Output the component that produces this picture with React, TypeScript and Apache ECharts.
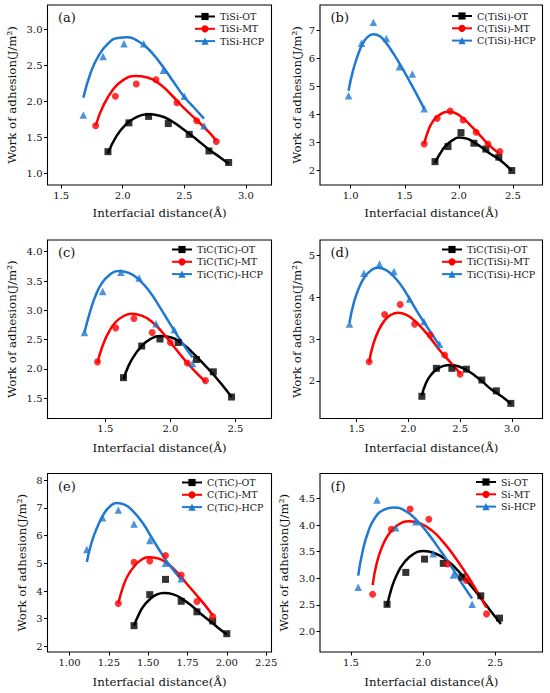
import React, { useEffect, useRef } from 'react';
import * as echarts from 'echarts';

const FONT = 'DejaVu Serif';
const COLORS = ['#000000', '#ff0000', '#1f78d1'];
const SYMBOLS = ['rect', 'circle', 'triangle'];
const SYMBOL_SIZES = [7, 7, 7.5];
const X_NAME = 'Interfacial distance(Å)';
const Y_NAME = 'Work of adhesion(J/m²)';

// (a)
const aNames = ['TiSi-OT', 'TiSi-MT', 'TiSi-HCP'];
const aOT = [[1.88,1.30],[2.05,1.70],[2.21,1.79],[2.37,1.69],[2.54,1.54],[2.70,1.31],[2.86,1.15]];
const aOTFit = [[1.88,1.28],[1.95,1.52],[2.02,1.67],[2.10,1.77],[2.20,1.82],[2.30,1.80],[2.40,1.72],[2.50,1.60],[2.60,1.47],[2.70,1.33],[2.80,1.21],[2.86,1.13]];
const aMT = [[1.78,1.66],[1.94,2.07],[2.11,2.24],[2.27,2.30],[2.44,1.98],[2.60,1.73],[2.76,1.44]];
const aMTFit = [[1.78,1.66],[1.84,1.93],[1.92,2.16],[2.00,2.29],[2.10,2.35],[2.20,2.33],[2.30,2.24],[2.40,2.08],[2.50,1.90],[2.60,1.74],[2.70,1.57],[2.76,1.45]];
const aHCP = [[1.68,1.81],[1.84,2.62],[2.01,2.80],[2.17,2.80],[2.33,2.43],[2.50,2.07],[2.66,1.66]];
const aHCPFit = [[1.68,2.05],[1.74,2.40],[1.80,2.62],[1.88,2.80],[1.96,2.88],[2.04,2.89],[2.12,2.84],[2.20,2.74],[2.30,2.54],[2.40,2.30],[2.50,2.06],[2.58,1.91],[2.66,1.76]];
const aXTicks = [1.5, 2.0, 2.5, 3.0];
const aYTicks = [1.0, 1.5, 2.0, 2.5, 3.0];

// (b)
const bNames = ['C(TiSi)-OT', 'C(TiSi)-MT', 'C(TiSi)-HCP'];
const bOT = [[1.78,2.31],[1.90,2.85],[2.02,3.35],[2.14,2.97],[2.25,2.76],[2.37,2.47],[2.49,1.99]];
const bOTFit = [[1.78,2.27],[1.83,2.62],[1.88,2.88],[1.94,3.07],[2.00,3.17],[2.06,3.15],[2.12,3.05],[2.20,2.85],[2.28,2.62],[2.37,2.40],[2.44,2.17],[2.49,1.99]];
const bMT = [[1.68,2.94],[1.80,3.86],[1.92,4.12],[2.04,3.80],[2.16,3.36],[2.27,2.94],[2.38,2.67]];
const bMTFit = [[1.68,2.95],[1.72,3.45],[1.76,3.75],[1.82,3.98],[1.90,4.10],[1.96,4.06],[2.04,3.86],[2.12,3.56],[2.20,3.23],[2.28,2.90],[2.38,2.58]];
const bHCP = [[0.98,4.67],[1.10,6.55],[1.21,7.30],[1.33,6.72],[1.45,5.71],[1.57,5.45],[1.68,4.20]];
const bHCPFit = [[0.98,4.85],[1.02,5.55],[1.06,6.05],[1.10,6.45],[1.15,6.75],[1.21,6.87],[1.27,6.80],[1.33,6.55],[1.40,6.15],[1.47,5.70],[1.55,5.15],[1.62,4.65],[1.68,4.20]];
const bXTicks = [1.0, 1.5, 2.0, 2.5];
const bYTicks = [2, 3, 4, 5, 6, 7];

// (c)
const cNames = ['TiC(TiC)-OT', 'TiC(TiC)-MT', 'TiC(TiC)-HCP'];
const cOT = [[1.64,1.85],[1.78,2.39],[1.92,2.51],[2.06,2.45],[2.20,2.16],[2.33,1.95],[2.47,1.52]];
const cOTFit = [[1.64,1.82],[1.68,2.06],[1.73,2.25],[1.78,2.39],[1.84,2.50],[1.92,2.56],[2.00,2.54],[2.08,2.45],[2.16,2.30],[2.24,2.12],[2.32,1.93],[2.40,1.72],[2.47,1.52]];
const cMT = [[1.44,2.12],[1.58,2.70],[1.72,2.86],[1.86,2.62],[2.00,2.45],[2.13,2.10],[2.27,1.80]];
const cMTFit = [[1.44,2.10],[1.48,2.40],[1.53,2.64],[1.58,2.80],[1.64,2.90],[1.70,2.94],[1.78,2.91],[1.86,2.80],[1.94,2.62],[2.02,2.40],[2.10,2.18],[2.18,1.98],[2.27,1.78]];
const cHCP = [[1.34,2.62],[1.48,3.32],[1.62,3.65],[1.76,3.55],[1.89,2.77],[2.03,2.67],[2.17,2.09]];
const cHCPFit = [[1.34,2.62],[1.38,2.95],[1.42,3.22],[1.47,3.45],[1.53,3.60],[1.60,3.67],[1.68,3.64],[1.76,3.52],[1.84,3.32],[1.92,3.05],[2.00,2.76],[2.08,2.48],[2.17,2.20]];
const cXTicks = [1.5, 2.0, 2.5];
const cYTicks = [1.5, 2.0, 2.5, 3.0, 3.5, 4.0];

// (d)
const dNames = ['TiC(TiSi)-OT', 'TiC(TiSi)-MT', 'TiC(TiSi)-HCP'];
const dOT = [[2.13,1.63],[2.27,2.30],[2.42,2.30],[2.56,2.28],[2.71,2.02],[2.85,1.76],[2.99,1.46]];
const dOTFit = [[2.13,1.65],[2.17,1.95],[2.22,2.15],[2.28,2.29],[2.34,2.36],[2.40,2.38],[2.48,2.35],[2.56,2.26],[2.64,2.13],[2.72,1.97],[2.80,1.80],[2.90,1.63],[2.99,1.45]];
const dMT = [[1.62,2.46],[1.77,3.59],[1.92,3.83],[2.06,3.36],[2.21,3.10],[2.35,2.62],[2.50,2.16]];
const dMTFit = [[1.62,2.45],[1.66,2.88],[1.71,3.20],[1.77,3.45],[1.83,3.58],[1.90,3.63],[1.98,3.58],[2.06,3.44],[2.14,3.24],[2.22,3.00],[2.30,2.74],[2.40,2.46],[2.50,2.18]];
const dHCP = [[1.43,3.36],[1.57,4.58],[1.72,4.80],[1.86,4.62],[2.01,3.96],[2.15,3.42],[2.30,2.88]];
const dHCPFit = [[1.43,3.40],[1.47,3.85],[1.52,4.22],[1.58,4.50],[1.64,4.65],[1.70,4.71],[1.78,4.66],[1.86,4.50],[1.94,4.25],[2.02,3.93],[2.10,3.60],[2.20,3.22],[2.30,2.85]];
const dXTicks = [1.5, 2.0, 2.5, 3.0];
const dYTicks = [2, 3, 4, 5];

// (e)
const eNames = ['C(TiC)-OT', 'C(TiC)-MT', 'C(TiC)-HCP'];
const eOT = [[1.41,2.75],[1.51,3.87],[1.61,4.42],[1.71,3.63],[1.81,3.25],[1.91,2.92],[2.00,2.46]];
const eOTFit = [[1.41,2.75],[1.44,3.15],[1.47,3.45],[1.51,3.70],[1.55,3.86],[1.60,3.93],[1.66,3.88],[1.72,3.70],[1.78,3.45],[1.84,3.15],[1.90,2.88],[1.95,2.65],[2.00,2.43]];
const eMT = [[1.31,3.55],[1.41,5.04],[1.51,5.08],[1.61,5.28],[1.71,4.58],[1.81,3.62],[1.91,3.08]];
const eMTFit = [[1.31,3.55],[1.34,4.15],[1.37,4.55],[1.41,4.88],[1.45,5.10],[1.50,5.22],[1.56,5.18],[1.62,5.00],[1.68,4.70],[1.74,4.30],[1.80,3.90],[1.86,3.50],[1.91,3.12]];
const eHCP = [[1.11,5.50],[1.21,6.64],[1.31,6.92],[1.41,6.42],[1.51,5.82],[1.61,5.00],[1.71,4.44]];
const eHCPFit = [[1.11,5.05],[1.14,5.75],[1.18,6.35],[1.22,6.80],[1.26,7.07],[1.30,7.18],[1.35,7.12],[1.40,6.90],[1.46,6.50],[1.52,5.95],[1.58,5.40],[1.64,4.90],[1.71,4.42]];
const eXTicks = [1.0, 1.25, 1.5, 1.75, 2.0, 2.25];
const eYTicks = [2, 3, 4, 5, 6, 7, 8];

// (f)
const fNames = ['Si-OT', 'Si-MT', 'Si-HCP'];
const fOT = [[1.75,2.51],[1.88,3.11],[2.01,3.36],[2.14,3.28],[2.27,3.02],[2.40,2.67],[2.53,2.25]];
const fOTFit = [[1.75,2.47],[1.78,2.80],[1.82,3.08],[1.87,3.30],[1.93,3.45],[2.00,3.51],[2.08,3.47],[2.16,3.35],[2.24,3.15],[2.32,2.90],[2.40,2.63],[2.47,2.38],[2.54,2.14]];
const fMT = [[1.65,2.70],[1.78,3.92],[1.91,4.30],[2.04,4.11],[2.17,3.27],[2.30,2.96],[2.44,2.33]];
const fMTFit = [[1.65,2.87],[1.68,3.30],[1.72,3.62],[1.77,3.86],[1.83,4.01],[1.90,4.07],[1.98,4.03],[2.06,3.90],[2.14,3.68],[2.22,3.40],[2.30,3.08],[2.37,2.77],[2.44,2.45]];
const fHCP = [[1.55,2.83],[1.68,4.47],[1.81,3.95],[1.95,4.06],[2.07,3.46],[2.21,3.06],[2.34,2.51]];
const fHCPFit = [[1.55,3.05],[1.58,3.50],[1.62,3.88],[1.67,4.15],[1.73,4.29],[1.80,4.33],[1.88,4.26],[1.96,4.08],[2.04,3.82],[2.12,3.52],[2.20,3.20],[2.27,2.90],[2.34,2.62]];
const fXTicks = [1.5, 2.0, 2.5];
const fYTicks = [2.0, 2.5, 3.0, 3.5, 4.0, 4.5];

const PANELS = [
  { label: '(a)', names: aNames, pts: [aOT, aMT, aHCP], fits: [aOTFit, aMTFit, aHCPFit], xTicks: aXTicks, yTicks: aYTicks, xDec: 1, yDec: 1,
    xMin: 1.389, xMax: 3.208, yMin: 0.837, yMax: 3.337,
    grid: { left: 47.5, top: 5, width: 224, height: 180 }, legend: { left: 194, top: 11.5 }, yGap: 29.5, xGap: 22 },
  { label: '(b)', names: bNames, pts: [bOT, bMT, bHCP], fits: [bOTFit, bMTFit, bHCPFit], xTicks: bXTicks, yTicks: bYTicks, xDec: 1, yDec: 0,
    xMin: 0.716, xMax: 2.774, yMin: 1.473, yMax: 7.92,
    grid: { left: 320, top: 5, width: 222.5, height: 180 }, legend: { left: 451, top: 11 }, yGap: 17.5, xGap: 22 },
  { label: '(c)', names: cNames, pts: [cOT, cMT, cHCP], fits: [cOTFit, cMTFit, cHCPFit], xTicks: cXTicks, yTicks: cYTicks, xDec: 1, yDec: 1,
    xMin: 1.056, xMax: 2.777, yMin: 1.153, yMax: 4.2,
    grid: { left: 47.5, top: 240, width: 224, height: 178.5 }, legend: { left: 171, top: 244.5 }, yGap: 29.5, xGap: 23.5 },
  { label: '(d)', names: dNames, pts: [dOT, dMT, dHCP], fits: [dOTFit, dMTFit, dHCPFit], xTicks: dXTicks, yTicks: dYTicks, xDec: 1, yDec: 0,
    xMin: 1.145, xMax: 3.296, yMin: 1.098, yMax: 5.376,
    grid: { left: 320, top: 240, width: 222.5, height: 178.5 }, legend: { left: 441, top: 244.5 }, yGap: 17.5, xGap: 23.5 },
  { label: '(e)', names: eNames, pts: [eOT, eMT, eHCP], fits: [eOTFit, eMTFit, eHCPFit], xTicks: eXTicks, yTicks: eYTicks, xDec: 2, yDec: 0,
    xMin: 0.86, xMax: 2.284, yMin: 1.80, yMax: 8.24,
    grid: { left: 47.5, top: 473.5, width: 224, height: 178.5 }, legend: { left: 181, top: 477.5 }, yGap: 19.5, xGap: 24 },
  { label: '(f)', names: fNames, pts: [fOT, fMT, fHCP], fits: [fOTFit, fMTFit, fHCPFit], xTicks: fXTicks, yTicks: fYTicks, xDec: 1, yDec: 1,
    xMin: 1.285, xMax: 2.828, yMin: 1.614, yMax: 4.969,
    grid: { left: 320, top: 473.5, width: 222.5, height: 178.5 }, legend: { left: 475, top: 477 }, yGap: 30.5, xGap: 24 },
];

function buildOption() {
  const grid: any[] = [];
  const xAxis: any[] = [];
  const yAxis: any[] = [];
  const legend: any[] = [];
  const series: any[] = [];
  const graphic: any[] = [];
  PANELS.forEach((p, i) => {
    grid.push({ ...p.grid, show: true, borderColor: '#000', borderWidth: 1.1, backgroundColor: 'transparent', containLabel: false });
    xAxis.push({
      type: 'value', gridIndex: i, min: p.xMin, max: p.xMax,
      axisLine: { show: false },
      axisTick: { show: true, length: 3.5, lineStyle: { color: '#000', width: 1 }, customValues: p.xTicks },
      axisLabel: { customValues: p.xTicks, formatter: (v: number) => v.toFixed(p.xDec), fontFamily: FONT, fontSize: 10, color: '#111', margin: 5 },
      splitLine: { show: false },
      name: X_NAME, nameLocation: 'middle', nameGap: p.xGap,
      nameTextStyle: { fontFamily: FONT, fontSize: 11.8, color: '#111' },
    });
    yAxis.push({
      type: 'value', gridIndex: i, min: p.yMin, max: p.yMax,
      axisLine: { show: false },
      axisTick: { show: true, length: 3.5, lineStyle: { color: '#000', width: 1 }, customValues: p.yTicks },
      axisLabel: { customValues: p.yTicks, formatter: (v: number) => v.toFixed(p.yDec), fontFamily: FONT, fontSize: 10, color: '#111', margin: 5 },
      splitLine: { show: false },
      name: Y_NAME, nameLocation: 'middle', nameGap: p.yGap, nameRotate: 90,
      nameTextStyle: { fontFamily: FONT, fontSize: 11.8, color: '#111' },
    });
    legend.push({
      orient: 'vertical', left: p.legend.left, top: p.legend.top, itemWidth: 20, itemHeight: 9, itemGap: 2.3,
      data: p.names, selectedMode: false, padding: 0,
      textStyle: { fontFamily: FONT, fontSize: 9.5, color: '#111', lineHeight: 10 },
    });
    p.names.forEach((name, k) => {
      series.push({
        type: 'line', name, xAxisIndex: i, yAxisIndex: i, data: p.fits[k], smooth: 0.5,
        symbol: SYMBOLS[k], symbolSize: SYMBOL_SIZES[k], showSymbol: false,
        lineStyle: { color: COLORS[k], width: 2.5 }, itemStyle: { color: COLORS[k] }, z: 2,
      });
      series.push({
        type: 'scatter', name: name + ' data', xAxisIndex: i, yAxisIndex: i, data: p.pts[k],
        symbol: SYMBOLS[k], symbolSize: SYMBOL_SIZES[k], itemStyle: { color: COLORS[k] }, z: 3,
      });
    });
    graphic.push({
      type: 'text', left: p.grid.left + 10.5, top: p.grid.top + 6,
      style: { text: p.label, fontFamily: FONT, fontSize: 13, fill: '#111' },
    });
  });
  return { animation: false, backgroundColor: '#fff', grid, xAxis, yAxis, legend, series, graphic };
}

export default function App() {
  const ref = useRef<HTMLDivElement>(null);
  useEffect(() => {
    if (!ref.current) return;
    const chart = echarts.init(ref.current, null, { renderer: 'svg' });
    chart.setOption(buildOption());
    return () => chart.dispose();
  }, []);
  return <div ref={ref} style={{ position: 'absolute', left: 0, top: 0, width: 550, height: 693, background: '#fff' }} />;
}
